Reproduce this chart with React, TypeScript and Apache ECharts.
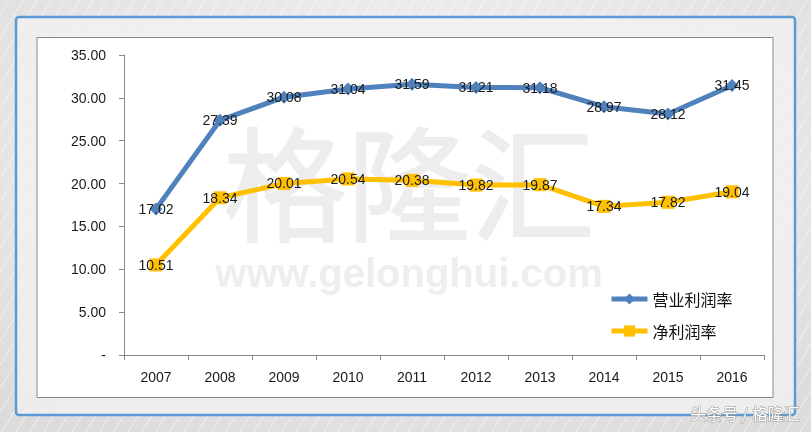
import React, { useEffect, useRef } from "react";
import * as echarts from "echarts";

const years = ["2007", "2008", "2009", "2010", "2011", "2012", "2013", "2014", "2015", "2016"];
const operatingMargin = [17.02, 27.39, 30.08, 31.04, 31.59, 31.21, 31.18, 28.97, 28.12, 31.45];
const netMargin = [10.51, 18.34, 20.01, 20.54, 20.38, 19.82, 19.87, 17.34, 17.82, 19.04];
const seriesNames = ["营业利润率", "净利润率"];

const W = 811;
const H = 432;

export default function App() {
  const ref = useRef<HTMLDivElement>(null);
  useEffect(() => {
    if (!ref.current) return;
    const chart = echarts.init(ref.current, undefined, { renderer: "svg" });

    const stripes: any[] = [];
    for (let i = -H; i < W + H; i += 14) {
      stripes.push({
        type: "line",
        z: -10,
        silent: true,
        shape: { x1: i, y1: H, x2: i + H * 0.6, y2: 0 },
        style: { stroke: "rgba(255,255,255,0.55)", lineWidth: 1 },
      });
    }

    const labelStyle = {
      show: true,
      position: "inside",
      color: "#1a1a1a",
      fontSize: 14,
      fontFamily: "Liberation Sans, Arial, sans-serif",
    };

    chart.setOption({
      animation: false,
      backgroundColor: {
        type: "radial",
        x: 0.5,
        y: 0.35,
        r: 0.75,
        colorStops: [
          { offset: 0, color: "#f7f7f7" },
          { offset: 1, color: "#dcdcdc" },
        ],
      },
      graphic: [
        ...stripes,
        {
          type: "rect",
          z: -9,
          silent: true,
          shape: { x: 16, y: 17, width: 779, height: 398, r: 3 },
          style: {
            fill: "rgba(242,242,242,0.75)",
            stroke: "#5b9bd5",
            lineWidth: 2.5,
          },
        },
        {
          type: "rect",
          z: -8,
          silent: true,
          shape: { x: 37, y: 37.5, width: 736, height: 360 },
          style: { fill: "#ffffff", stroke: "#8a8a8a", lineWidth: 1 },
        },
        {
          type: "text",
          z: -7,
          silent: true,
          x: 409,
          y: 178,
          style: {
            text: "格隆汇",
            fill: "#ededed",
            stroke: "#ededed",
            lineWidth: 1.5,
            font: "normal 124px 'Noto Sans CJK SC', sans-serif",
            align: "center",
            verticalAlign: "middle",
          },
        },
        {
          type: "text",
          z: -7,
          silent: true,
          x: 409,
          y: 273,
          style: {
            text: "www.gelonghui.com",
            fill: "#eeeeee",
            font: "bold 40px 'Liberation Sans', Arial, sans-serif",
            align: "center",
            verticalAlign: "middle",
          },
        },
        {
          type: "text",
          z: 10,
          silent: true,
          x: 745,
          y: 413,
          style: {
            text: "头条号 / 格隆汇",
            fill: "#ffffff",
            stroke: "#9a9a9a",
            lineWidth: 1,
            font: "16px 'Noto Sans CJK SC', sans-serif",
            align: "center",
            verticalAlign: "middle",
          },
        },
      ],
      legend: {
        orient: "vertical",
        left: 609,
        top: 291,
        padding: 0,
        itemWidth: 36,
        itemHeight: 14,
        itemGap: 16,
        lineStyle: { width: 5 },
        textStyle: {
          fontSize: 16,
          color: "#111",
          fontFamily: "'Noto Sans CJK SC', sans-serif",
        },
        data: seriesNames,
      },
      grid: { left: 124, right: 47, top: 55, bottom: 77 },
      xAxis: {
        type: "category",
        data: years,
        z: 3,
        axisLine: { lineStyle: { color: "#888", width: 1 } },
        axisTick: { show: true, length: 5, lineStyle: { color: "#888" } },
        axisLabel: {
          color: "#1a1a1a",
          fontSize: 14,
          margin: 15,
          fontFamily: "Liberation Sans, Arial, sans-serif",
        },
      },
      yAxis: {
        type: "value",
        min: 0,
        max: 35,
        interval: 5,
        z: 3,
        splitLine: { show: false },
        axisLine: { show: true, lineStyle: { color: "#888", width: 1 } },
        axisTick: { show: true, length: 5, lineStyle: { color: "#888" } },
        axisLabel: {
          color: "#1a1a1a",
          fontSize: 14,
          margin: 18,
          fontFamily: "Liberation Sans, Arial, sans-serif",
          formatter: (v: number) => (v === 0 ? "-" : v.toFixed(2)),
        },
      },
      series: [
        {
          name: seriesNames[0],
          type: "line",
          z: 5,
          data: operatingMargin,
          color: "#4f81bd",
          symbol: "diamond",
          symbolSize: 13,
          lineStyle: { width: 5, color: "#4f81bd" },
          itemStyle: { color: "#4f81bd" },
          label: { ...labelStyle, formatter: (p: any) => p.value.toFixed(2) },
        },
        {
          name: seriesNames[1],
          type: "line",
          z: 5,
          data: netMargin,
          color: "#ffc000",
          symbol: "rect",
          symbolSize: 13,
          lineStyle: { width: 5, color: "#ffc000" },
          itemStyle: { color: "#ffc000" },
          label: { ...labelStyle, formatter: (p: any) => p.value.toFixed(2) },
        },
      ],
    });
    return () => chart.dispose();
  }, []);
  return (
    <div
      ref={ref}
      style={{ position: "fixed", left: 0, top: 0, width: W, height: H }}
    />
  );
}
